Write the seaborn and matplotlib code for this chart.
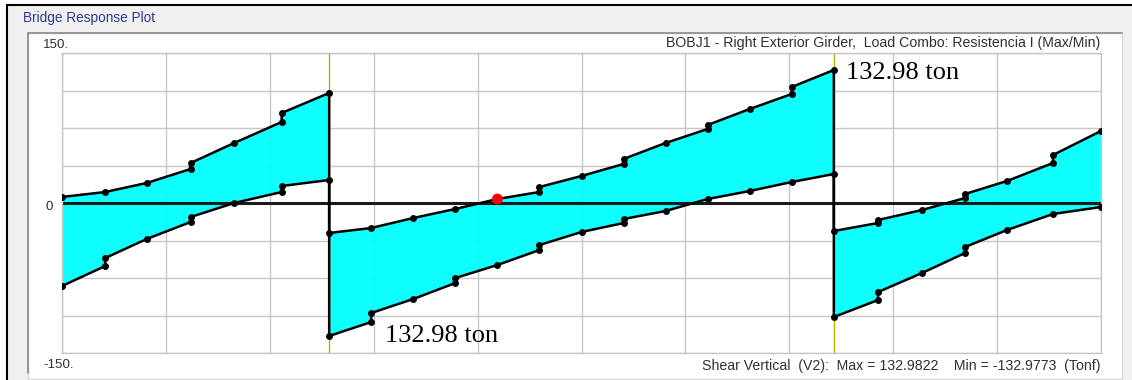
import numpy as np
import pandas as pd
import seaborn as sns
import matplotlib.pyplot as plt
from matplotlib.patches import Rectangle
from matplotlib.lines import Line2D

sns.set_theme(style="white")
plt.rcParams["font.family"] = ["Liberation Sans", "DejaVu Sans"]

# Station along the girder (m); supports at 27 m and 78 m
supports = [27.0, 78.0]
x_span1 = [0.0, 4.37, 8.56, 13.0, 17.4, 22.2, 27.0]
x_span2 = [27.0, 31.25, 35.5, 39.75, 44.0, 48.25, 52.5, 56.75, 61.0, 65.25, 69.5, 73.75, 78.0]
x_span3 = [78.0, 82.47, 86.91, 91.26, 95.5, 100.15, 105.0]

# Shear envelope (Tonf); stations listed twice carry a step in the envelope
max_x1 = [0.0, 4.37, 8.56, 13.0, 13.0, 17.4, 22.2, 22.2, 27.0]
max_v1 = [6, 11, 20, 34, 40, 60, 81, 90, 110]
min_x1 = [0.0, 4.37, 4.37, 8.56, 13.0, 13.0, 17.4, 22.2, 22.2, 27.0]
min_v1 = [-83, -63, -55, -36, -19, -14, 0, 11, 17, 23]

max_x2 = [27.0, 31.25, 35.5, 39.75, 44.0, 48.25, 48.25, 52.5, 56.75, 56.75, 61.0,
          65.25, 65.25, 69.5, 73.75, 73.75, 78.0]
max_v2 = [-30, -25, -15, -6, 4, 11, 16, 27, 39, 44, 60, 74, 78, 94, 109, 116, 132.9822]
min_x2 = [27.0, 31.25, 31.25, 35.5, 39.75, 39.75, 44.0, 48.25, 48.25, 52.5, 56.75,
          56.75, 61.0, 65.25, 69.5, 73.75, 78.0]
min_v2 = [-132.9773, -119, -110, -96, -80, -75, -62, -47, -42, -29, -20, -16, -8, 4, 12, 21, 29]

max_x3 = [78.0, 82.47, 82.47, 86.91, 91.26, 91.26, 95.5, 100.15, 100.15, 105.0]
max_v3 = [-28, -20, -17, -7, 5, 9, 22, 40, 48, 72]
min_x3 = [78.0, 82.47, 82.47, 86.91, 91.26, 91.26, 95.5, 100.15, 105.0]
min_v3 = [-114, -97, -89, -70, -50, -44, -27, -11, -4]

cursor_x, cursor_v = 44.0, 4

title = "BOBJ1 - Right Exterior Girder,  Load Combo: Resistencia I (Max/Min)"
footer = "Shear Vertical  (V2):  Max = 132.9822    Min = -132.9773  (Tonf)"
window_title = "Bridge Response Plot"
peak_label = "132.98 ton"

W, H = 1132, 380
fig = plt.figure(figsize=(W / 100, H / 100), dpi=100)
fig.patch.set_facecolor("#f0f0f0")


def fx(px):
    return px / W


def fy(py):
    return 1 - py / H


# window frame
fig.add_artist(Rectangle((0, 0), fx(7), 1, transform=fig.transFigure, color="white", zorder=0))
fig.add_artist(Rectangle((0, fy(5)), 1, 1 - fy(5), transform=fig.transFigure, color="white", zorder=0))
fig.add_artist(Line2D([fx(7), fx(7)], [0, fy(5)], transform=fig.transFigure, color="black", lw=1.5))
fig.add_artist(Line2D([fx(7), 1], [fy(5), fy(5)], transform=fig.transFigure, color="black", lw=1.5))
fig.add_artist(Rectangle((fx(28), fy(379)), fx(1122 - 28), (379 - 33) / H, transform=fig.transFigure,
                         facecolor="white", edgecolor="#d8d8d8", lw=1, zorder=0))
fig.add_artist(Line2D([fx(28), fx(28)], [fy(373), fy(33)], transform=fig.transFigure, color="#8a8a8a", lw=1.2))
fig.add_artist(Line2D([fx(28), fx(1122)], [fy(33), fy(33)], transform=fig.transFigure, color="#8a8a8a", lw=1.2))
fig.text(fx(23), fy(18), window_title, color="#2b3b8f", fontsize=9.8, ha="left", va="center")

ax = fig.add_axes([fx(62), fy(353), fx(1101 - 62), (353 - 53) / H])
ax.set_xlim(0, 105)
ax.set_ylim(-150, 150)
ax.set_xticks(np.linspace(0, 105, 11))
ax.set_yticks(np.linspace(-150, 150, 9))
ax.set_xticklabels([])
ax.set_yticklabels([])
ax.tick_params(length=0)
ax.grid(True, color="#c6c6c6", lw=1)
ax.set_axisbelow(True)
for s in ax.spines.values():
    s.set_color("#c6c6c6")
    s.set_linewidth(1)

spans = [(max_x1, max_v1, min_x1, min_v1),
         (max_x2, max_v2, min_x2, min_v2),
         (max_x3, max_v3, min_x3, min_v3)]
for mx, mv, nx, nv in spans:
    ax.fill(np.concatenate([mx, nx[::-1]]), np.concatenate([mv, nv[::-1]]),
            color="#00ffff", alpha=0.94, lw=0, zorder=1)

for xs in supports:
    ax.axvline(xs, color="#b5b500", lw=1, zorder=1.5)
ax.axhline(0, color="#1a1a1a", lw=2.2, zorder=2)

env = pd.DataFrame({
    "x": max_x1 + max_x2 + max_x3 + min_x1 + min_x2 + min_x3,
    "v": max_v1 + max_v2 + max_v3 + min_v1 + min_v2 + min_v3,
    "curve": ["max"] * (len(max_x1) + len(max_x2) + len(max_x3))
             + ["min"] * (len(min_x1) + len(min_x2) + len(min_x3)),
})
sns.lineplot(data=env, x="x", y="v", units="curve", estimator=None, sort=False,
             color="black", lw=1.8, marker="o", markersize=5, markeredgewidth=0,
             ax=ax, zorder=3)
sns.scatterplot(x=[cursor_x], y=[cursor_v], color="red", s=60, edgecolor="none", ax=ax, zorder=4)
ax.set_xlabel("")
ax.set_ylabel("")

ax.annotate(peak_label, xy=(max_x2[-1], max_v2[-1]), xytext=(9, -6.5), textcoords="offset points",
            fontfamily="Liberation Serif", fontsize=19, ha="left", va="baseline", color="black")
ax.annotate(peak_label, xy=(min_x2[0], min_v2[0]), xytext=(40, -4.5), textcoords="offset points",
            fontfamily="Liberation Serif", fontsize=19, ha="left", va="baseline", color="black")

lab = dict(fontsize=9.6, color="#303030", va="center")
fig.text(fx(43), fy(45), "150.", ha="left", **lab)
fig.text(fx(46), fy(207), "0", ha="left", **lab)
fig.text(fx(43), fy(365), "-150.", ha="left", **lab)
lab["fontsize"] = 10.2
fig.text(fx(1100), fy(43), title, ha="right", **lab)
fig.text(fx(1100), fy(366), footer, ha="right", **lab)

fig.savefig("out.png", dpi=100, facecolor=fig.get_facecolor())
